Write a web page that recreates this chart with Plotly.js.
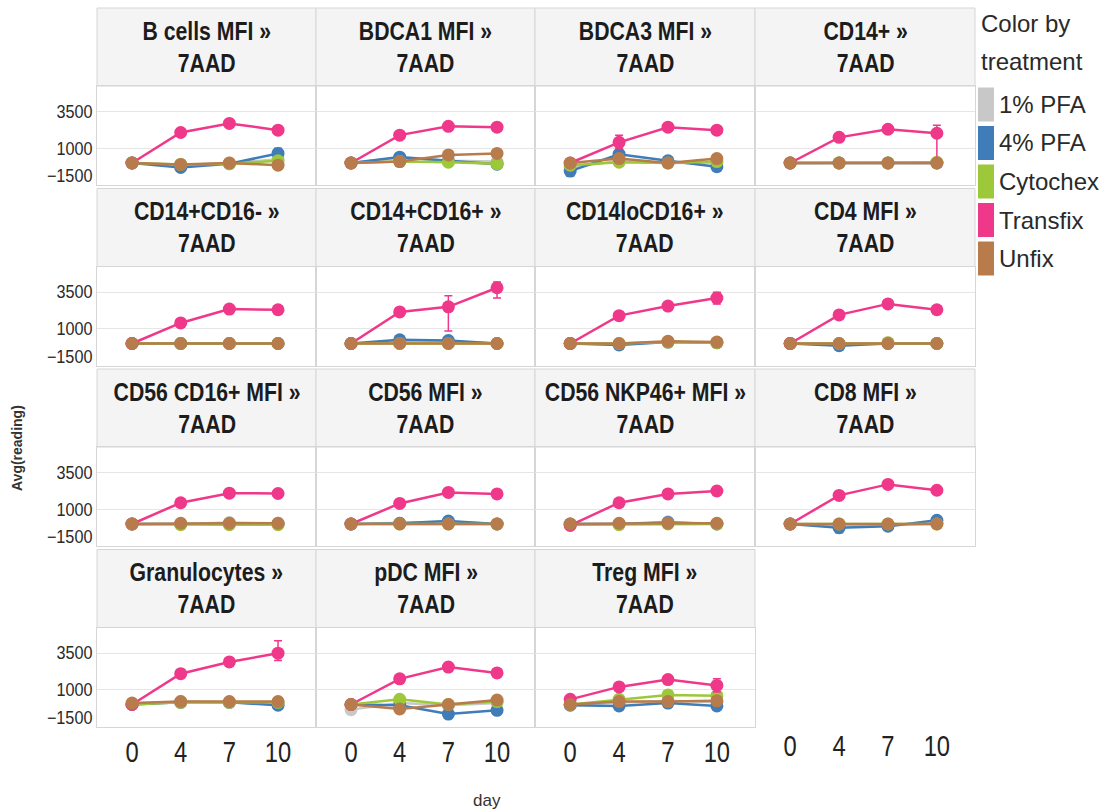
<!DOCTYPE html>
<html>
<head>
<meta charset="utf-8">
<script src="https://cdn.plot.ly/plotly-3.0.1.min.js"></script>
<style>html,body{margin:0;padding:0;background:#fff;}#chart{width:1110px;height:812px;}</style>
</head>
<body>
<div id="chart"></div>
<script>
// ---------------- DATA ----------------
const days = ["0", "4", "7", "10"];
const panels = ["B cells MFI »", "BDCA1 MFI »", "BDCA3 MFI »", "CD14+ »",
  "CD14+CD16- »", "CD14+CD16+ »", "CD14loCD16+ »", "CD4 MFI »",
  "CD56 CD16+ MFI »", "CD56 MFI »", "CD56 NKP46+ MFI »", "CD8 MFI »",
  "Granulocytes »", "pDC MFI »", "Treg MFI »"];
const subLabel = "7AAD";
const legendTitle = ["Color by", "treatment"];
const treatments = ["1% PFA", "4% PFA", "Cytochex", "Transfix", "Unfix"];
const colors = ["#c8c8c8", "#3f7cb8", "#9cc83a", "#f0388b", "#b87b4b"];

const pfa1 = [
  [0, -150, 0, 250], [0, 350, 150, 100], [-300, 150, 0, 0], [0, 0, 0, 0],
  [0, 0, 0, 0], [0, 100, 150, 0], [0, -50, 100, 50], [0, 0, 50, 0],
  [0, 0, 100, 50], [0, 50, 150, 0], [0, 0, 150, 0], [0, -100, -100, 50],
  [0, 200, 150, 0], [-350, 100, -50, 100], [0, 150, 250, 150]];
const pfa4 = [
  [0, -300, -50, 650], [0, 400, 150, -80], [-550, 600, 150, -250], [0, 0, 0, 0],
  [0, 0, 0, 0], [0, 250, 200, 0], [0, -100, 100, 50], [0, -150, 0, 0],
  [0, 0, 0, 0], [0, 50, 200, 0], [0, 0, 100, 0], [0, -250, -150, 250],
  [0, 150, 150, -50], [0, -50, -650, -400], [-50, -100, 100, -100]];
const pfa4Err = [
  [0, 250, 100, 350], [0, 0, 0, 0], [350, 150, 0, 100], [0, 0, 0, 0],
  [0, 0, 0, 0], [0, 0, 0, 0], [0, 0, 0, 0], [0, 300, 0, 0],
  [0, 0, 0, 0], [0, 0, 0, 0], [0, 0, 0, 0], [0, 350, 0, 150],
  [0, 0, 0, 0], [0, 0, 150, 100], [0, 0, 0, 0]];
const cytochex = [
  [0, -100, -50, 150], [0, 100, 50, -50], [-150, 50, 0, 100], [0, 0, 0, 50],
  [0, 0, 0, 0], [0, 0, 0, 0], [0, 0, 100, 50], [0, 0, 50, 0],
  [0, -50, -50, -50], [0, 0, 0, 0], [-50, -50, 0, 0], [0, 0, 0, 0],
  [0, 150, 150, 150], [0, 350, 0, 200], [0, 350, 650, 600]];
const transfix = [
  [0, 2080, 2700, 2240], [0, 1900, 2500, 2440], [0, 1410, 2440, 2240], [0, 1750, 2300, 2030],
  [0, 1400, 2350, 2300], [0, 2150, 2500, 3800], [0, 1900, 2550, 3100], [0, 1950, 2700, 2300],
  [0, 1450, 2100, 2080], [0, 1400, 2150, 2050], [-100, 1450, 2050, 2250], [0, 1950, 2700, 2300],
  [0, 2100, 2900, 3500], [0, 1750, 2550, 2150], [350, 1200, 1700, 1300]];
const transfixErrPlus = [
  [0, 0, 0, 0], [0, 0, 0, 0], [0, 480, 0, 0], [0, 0, 0, 550],
  [0, 0, 0, 0], [0, 0, 750, 400], [0, 0, 0, 400], [0, 0, 0, 0],
  [0, 0, 0, 0], [0, 0, 0, 0], [0, 0, 0, 0], [0, 0, 0, 0],
  [0, 0, 0, 850], [0, 0, 0, 0], [0, 0, 0, 450]];
const transfixErrMinus = [
  [0, 0, 0, 0], [0, 0, 0, 0], [0, 410, 0, 0], [0, 0, 0, 1850],
  [0, 0, 0, 0], [0, 0, 1650, 700], [0, 0, 0, 400], [0, 0, 0, 0],
  [0, 0, 0, 0], [0, 0, 0, 0], [0, 0, 0, 0], [0, 0, 0, 0],
  [0, 0, 0, 500], [0, 0, 0, 0], [0, 0, 0, 450]];
const unfix = [
  [0, -100, 0, -150], [0, 100, 550, 650], [0, 300, 0, 300], [0, 0, 0, 0],
  [0, 0, 0, 0], [0, 0, 0, 0], [0, 0, 150, 100], [0, 0, 0, 0],
  [0, 50, 50, 50], [0, 0, 0, 0], [0, 50, 50, 50], [0, 0, 0, 0],
  [100, 200, 200, 200], [0, -300, 0, 300], [0, 200, 200, 250]];
const yTicks = [-1500, 1000, 3500];
const yRange = [-1500, 5250];

// ---------------- LAYOUT ----------------
const W = 1110, H = 812;
const FONT = "Liberation Sans Narrow, Arial Narrow, Liberation Sans, Arial, sans-serif";
const colX = [97, 316, 535, 755, 975];
const rowStep = 180.5;
const px = x => x / W;
const py = y => 1 - y / H;

const series = [
  {vals: pfa1}, {vals: pfa4, errP: pfa4Err, errM: pfa4Err},
  {vals: cytochex}, {vals: transfix, errP: transfixErrPlus, errM: transfixErrMinus},
  {vals: unfix}];

const data = [];
const layout = {
  width: W, height: H,
  margin: {l: 0, r: 0, t: 0, b: 0},
  paper_bgcolor: "#ffffff", plot_bgcolor: "#ffffff",
  showlegend: false,
  font: {family: FONT, color: "#333"},
  shapes: [], annotations: []
};

for (let i = 0; i < panels.length; i++) {
  const r = Math.floor(i / 4), c = i % 4;
  const plotTop = 86 + r * rowStep, plotBot = 185 + r * rowStep, hdrTop = 8 + r * rowStep;
  const xa = "x" + (i + 1), ya = "y" + (i + 1);
  layout["xaxis" + (i + 1)] = {
    domain: [px(colX[c]), px(colX[c + 1])], anchor: ya,
    type: "category", categoryarray: days, categoryorder: "array",
    range: [-0.72, 3.78], showgrid: false, zeroline: false,
    showline: true, mirror: true, linecolor: "#d6d6d6", linewidth: 1,
    ticks: "", showticklabels: r === 3,
    tickfont: {family: FONT, size: 29, color: "#222"}
  };
  layout["yaxis" + (i + 1)] = {
    domain: [py(plotBot), py(plotTop)], anchor: xa,
    range: yRange, tickmode: "array", tickvals: yTicks,
    showgrid: true, gridcolor: "#e6e6e6", gridwidth: 1, zeroline: false,
    showline: true, mirror: true, linecolor: "#d6d6d6", linewidth: 1,
    ticks: "", showticklabels: c === 0,
    tickfont: {family: FONT, size: 18, color: "#2a2a2a"}
  };
  // header cell
  layout.shapes.push({
    type: "rect", xref: "paper", yref: "paper",
    x0: px(colX[c]), x1: px(colX[c + 1]), y0: py(plotTop), y1: py(hdrTop),
    fillcolor: "#f4f4f4", line: {color: "#d6d6d6", width: 1}, layer: "below"
  });
  layout.annotations.push({
    xref: "paper", yref: "paper",
    x: px((colX[c] + colX[c + 1]) / 2), y: py((hdrTop + plotTop) / 2),
    xanchor: "center", yanchor: "middle", showarrow: false,
    text: panels[i] + "<br>" + subLabel,
    font: {family: FONT, size: 25, color: "#1c1c1c", weight: "bold"}
  });
  series.forEach((s, k) => {
    const tr = {
      type: "scatter", mode: "lines+markers",
      x: days, y: s.vals[i], xaxis: xa, yaxis: ya,
      name: treatments[k],
      line: {color: colors[k], width: 2.5},
      marker: {color: colors[k], size: 13},
      hoverinfo: "x+y+name"
    };
    if (s.errP) {
      tr.error_y = {type: "data", symmetric: false, array: s.errP[i], arrayminus: s.errM[i],
        color: colors[k], thickness: 1.5, width: 4};
    }
    data.push(tr);
  });
}

// empty cell bottom-right: only x-axis labels
{
  const r = 3, c = 3;
  const plotTop = 86 + r * rowStep, plotBot = 185 + r * rowStep;
  layout.xaxis16 = {
    domain: [px(colX[c]), px(colX[c + 1])], anchor: "y16",
    type: "category", categoryarray: days, categoryorder: "array",
    range: [-0.72, 3.78], showgrid: false, zeroline: false, showline: false,
    ticks: "", tickfont: {family: FONT, size: 29, color: "#222"}
  };
  layout.yaxis16 = {domain: [py(plotBot), py(plotTop)], anchor: "x16", range: yRange, visible: false};
  data.push({type: "scatter", mode: "markers", x: days, y: [null, null, null, null],
    xaxis: "x16", yaxis: "y16", hoverinfo: "skip", showlegend: false});
}

// axis titles
layout.annotations.push({
  xref: "paper", yref: "paper", x: px(17), y: py(448), textangle: -90,
  xanchor: "center", yanchor: "middle", showarrow: false,
  text: "Avg(reading)", font: {family: FONT, size: 14, color: "#333", weight: "bold"}
});
layout.annotations.push({
  xref: "paper", yref: "paper", x: px(487), y: py(800),
  xanchor: "center", yanchor: "middle", showarrow: false,
  text: "day", font: {family: FONT, size: 17, color: "#333"}
});

// legend (colour key)
legendTitle.forEach((t, k) => {
  layout.annotations.push({
    xref: "paper", yref: "paper", x: px(979), y: py(24 + k * 38),
    xanchor: "left", yanchor: "middle", showarrow: false,
    text: t, font: {family: FONT, size: 24, color: "#2a2a2a"}
  });
});
treatments.forEach((t, k) => {
  const cy = 104.5 + k * 38.5;
  layout.shapes.push({
    type: "rect", xref: "paper", yref: "paper",
    x0: px(978), x1: px(994), y0: py(cy + 17), y1: py(cy - 17),
    fillcolor: colors[k], line: {width: 0}
  });
  layout.annotations.push({
    xref: "paper", yref: "paper", x: px(997), y: py(cy),
    xanchor: "left", yanchor: "middle", showarrow: false,
    text: t, font: {family: FONT, size: 24, color: "#2a2a2a"}
  });
});

// horizontal condensing of text to imitate the narrow typeface of the original
function condense(nodes, s, anchor, dy) {
  nodes.forEach(t => {
    const cur = t.getAttribute("transform") || "";
    if (t.__condensed && t.__condensed === cur) return;
    const b = t.getBBox();
    const cx = anchor === "left" ? b.x : anchor === "right" ? b.x + b.width : b.x + b.width / 2;
    const shift = dy ? dy(t) : 0;
    const next = cur + " translate(" + cx + "," + shift + ") scale(" + s + ",1) translate(" + (-cx) + ",0)";
    t.setAttribute("transform", next);
    t.__condensed = next;
  });
}
function applyCondense(gd) {
  const hdr = [];
  gd.querySelectorAll("g.annotation").forEach(g => {
    const idx = +g.getAttribute("data-index");
    const t = g.querySelector("text.annotation-text");
    if (t && idx < panels.length) hdr.push(t);
  });
  condense(hdr, 0.85, "center");
  condense(Array.from(gd.querySelectorAll("g.xaxislayer-above text")), 0.82, "center");
  // lowest tick label is nudged up inside the pane, as in the original
  condense(Array.from(gd.querySelectorAll("g.yaxislayer-above text")), 0.9, "right",
    t => (/1500/.test(t.textContent) && !/^3/.test(t.textContent)) ? -9 : 0);
}

const gdiv = document.getElementById("chart");
Plotly.newPlot(gdiv, data, layout, {displayModeBar: false, staticPlot: true}).then(gd => {
  applyCondense(gd);
  gd.on("plotly_afterplot", () => applyCondense(gd));
  setTimeout(() => applyCondense(gd), 50);
  setTimeout(() => applyCondense(gd), 300);
});
</script>
</body>
</html>
